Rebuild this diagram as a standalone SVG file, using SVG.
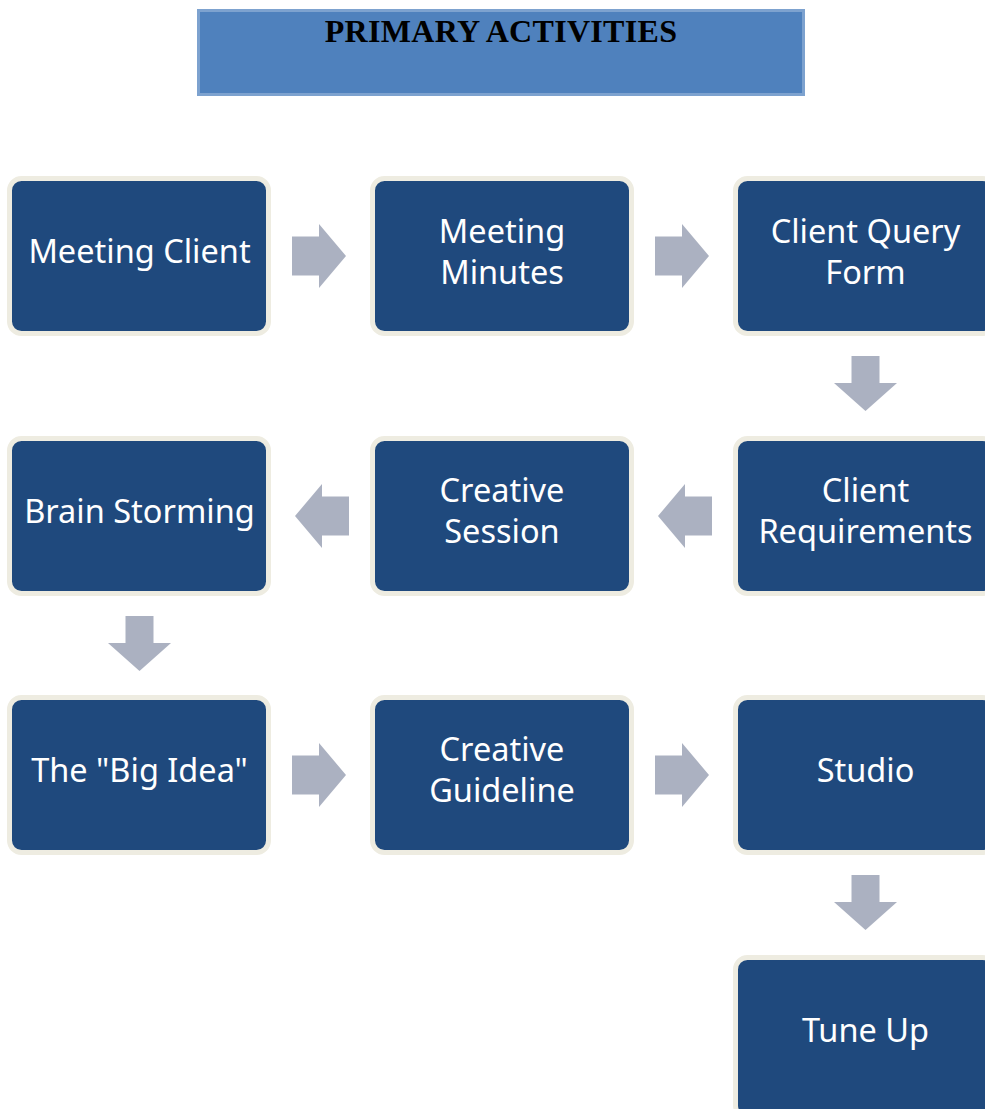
<svg xmlns="http://www.w3.org/2000/svg" xmlns:xlink="http://www.w3.org/1999/xlink" width="985" height="1109" viewBox="0 0 985 1109">
<style>
.box{fill:#1F497D;stroke:#EEECE1;stroke-width:5}
.lbl{font-family:"Noto Sans","Open Sans",sans-serif;font-size:32.5px;fill:#FFFFFF;text-anchor:middle}
.arr{fill:#ABB1C1}
.title{font-family:"Liberation Serif","Times New Roman",serif;font-weight:bold;font-size:32px;letter-spacing:0.3px;fill:#000000;text-anchor:middle}
</style>
<defs>
<polygon id="ar" class="arr" points="0,-19.5 27,-19.5 27,-32 54,0 27,32 27,19.5 0,19.5"/>
<polygon id="ad" class="arr" points="-14,0 14,0 14,27 31.5,27 0,55 -31.5,27 -14,27"/>
</defs>
<rect width="985" height="1109" fill="#FFFFFF"/>
<g id="title">
<rect x="198.5" y="10.5" width="605" height="84" fill="#4F81BD" stroke="#7DA2CF" stroke-width="3"/>
<text class="title" x="501" y="42">PRIMARY ACTIVITIES</text>
</g>
<g id="connectors">
<use xlink:href="#ar" transform="translate(292,256)"/>
<use xlink:href="#ar" transform="translate(655,256)"/>
<use xlink:href="#ad" transform="translate(865.5,356)"/>
<use xlink:href="#ar" transform="translate(349,516) scale(-1,1)"/>
<use xlink:href="#ar" transform="translate(712,516) scale(-1,1)"/>
<use xlink:href="#ad" transform="translate(139.5,616)"/>
<use xlink:href="#ar" transform="translate(292,775)"/>
<use xlink:href="#ar" transform="translate(655,775)"/>
<use xlink:href="#ad" transform="translate(865.5,875)"/>
</g>
<g id="meeting-client">
<rect class="box" x="9.5" y="178.5" width="259" height="155" rx="12"/>
<text class="lbl" x="139.5" y="263">Meeting Client</text>
</g>
<g id="meeting-minutes">
<rect class="box" x="372.5" y="178.5" width="259" height="155" rx="12"/>
<text class="lbl" x="502" y="243">Meeting</text>
<text class="lbl" x="502" y="284">Minutes</text>
</g>
<g id="client-query-form">
<rect class="box" x="735.5" y="178.5" width="259" height="155" rx="12"/>
<text class="lbl" x="865.5" y="243">Client Query</text>
<text class="lbl" x="865.5" y="284">Form</text>
</g>
<g id="client-requirements">
<rect class="box" x="735.5" y="438.5" width="259" height="155" rx="12"/>
<text class="lbl" x="865.5" y="502">Client</text>
<text class="lbl" x="865.5" y="543">Requirements</text>
</g>
<g id="creative-session">
<rect class="box" x="372.5" y="438.5" width="259" height="155" rx="12"/>
<text class="lbl" x="502" y="502">Creative</text>
<text class="lbl" x="502" y="543">Session</text>
</g>
<g id="brain-storming">
<rect class="box" x="9.5" y="438.5" width="259" height="155" rx="12"/>
<text class="lbl" x="139.5" y="523">Brain Storming</text>
</g>
<g id="big-idea">
<rect class="box" x="9.5" y="697.5" width="259" height="155" rx="12"/>
<text class="lbl" x="139.5" y="782">The "Big Idea"</text>
</g>
<g id="creative-guideline">
<rect class="box" x="372.5" y="697.5" width="259" height="155" rx="12"/>
<text class="lbl" x="502" y="761">Creative</text>
<text class="lbl" x="502" y="802">Guideline</text>
</g>
<g id="studio">
<rect class="box" x="735.5" y="697.5" width="259" height="155" rx="12"/>
<text class="lbl" x="865.5" y="782">Studio</text>
</g>
<g id="tune-up">
<rect class="box" x="735.5" y="957.5" width="259" height="160" rx="12"/>
<text class="lbl" x="865.5" y="1042">Tune Up</text>
</g>
</svg>
